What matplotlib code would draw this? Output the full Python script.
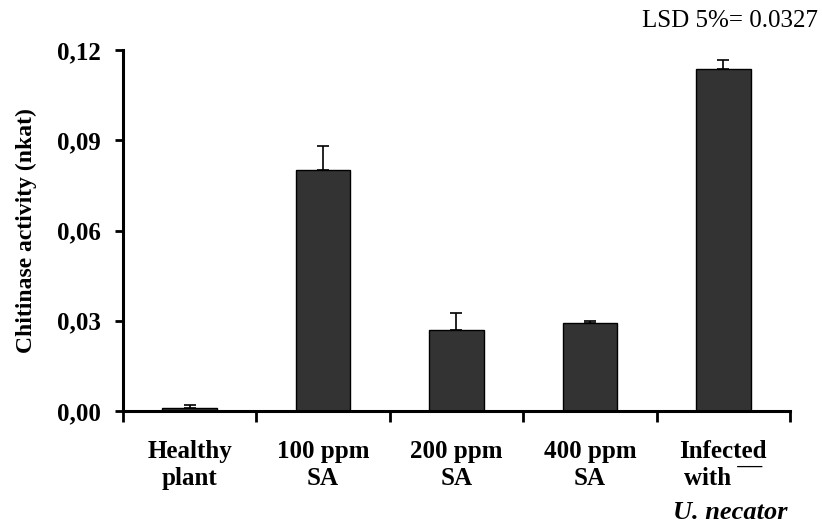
import matplotlib.pyplot as plt
from matplotlib.ticker import FixedLocator, FuncFormatter

# values
categories = ["Healthy\nplant", "100 ppm\nSA", "200 ppm\nSA", "400 ppm\nSA", "Infected\nwith \u00af\u00af"]
activity = [0.0011, 0.0800, 0.0270, 0.0292, 0.1137]
error_up = [0.0009, 0.0082, 0.0057, 0.0008, 0.0030]
yticks = [0.00, 0.03, 0.06, 0.09, 0.12]

plt.rcParams["font.family"] = ["Liberation Serif", "DejaVu Serif"]

fig = plt.figure(figsize=(8.22, 5.27), dpi=100)
ax = fig.add_axes([0.1496, 0.22, 0.8114, 0.685])

x = list(range(len(categories)))
ax.bar(x, activity, width=0.41, color="#333333", edgecolor="black", linewidth=1.0, zorder=2)
ax.errorbar(x, activity, yerr=[[0] * len(x), error_up], fmt="none", ecolor="black",
            elinewidth=1.2, capsize=4.3, capthick=1.2, zorder=3)

ax.set_xlim(-0.5, len(categories) - 0.5)
ax.set_ylim(0, 0.12)

for side in ("top", "right"):
    ax.spines[side].set_visible(False)
for side in ("left", "bottom"):
    ax.spines[side].set_linewidth(2.2)

# labels at bar centres, tick marks at category boundaries
ax.set_xticks(x)
ax.set_xticklabels(categories, fontsize=18, fontweight="bold", linespacing=1.2)
ax.tick_params(axis="x", which="major", length=0, pad=21)
ax.xaxis.set_minor_locator(FixedLocator([i - 0.5 for i in range(len(categories) + 1)]))
ax.tick_params(axis="x", which="minor", length=8, width=2, direction="out")

ax.set_yticks(yticks)
ax.yaxis.set_major_formatter(FuncFormatter(lambda v, _: f"{v:.2f}".replace(".", ",")))
ax.tick_params(axis="y", length=6, width=2, direction="out", pad=10, labelsize=18)
for lab in ax.get_yticklabels():
    lab.set_fontweight("bold")

ax.set_ylabel("Chitinase activity (nkat)", fontsize=17, fontweight="bold", labelpad=14)

fig.text(0.9955, 0.949, "LSD 5%= 0.0327", ha="right", va="baseline", fontsize=18)
fig.text(0.888, 0.027, "U. necator", ha="center", va="center", fontsize=19,
         fontweight="bold", fontstyle="italic")

fig.savefig("out.png", dpi=100)
